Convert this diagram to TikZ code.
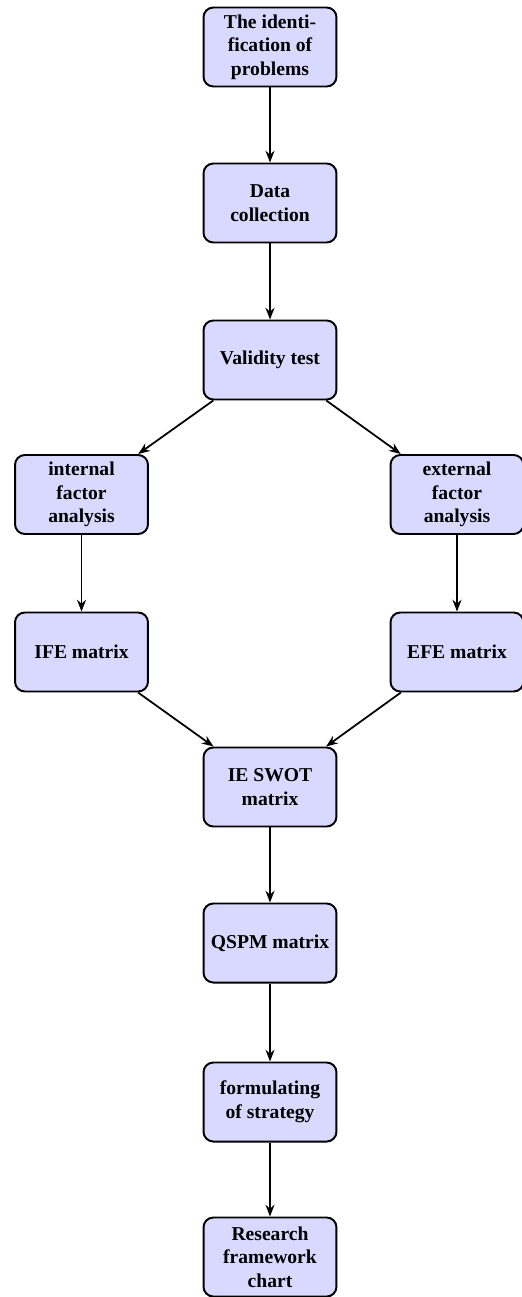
\documentclass[tikz,border=0pt]{standalone}
\usepackage{fontspec}
\setmainfont{Liberation Serif}
\usetikzlibrary{arrows.meta}
\begin{document}
\begin{tikzpicture}[x=0.51pt,y=-0.51pt,
  box/.style={draw=black,line width=1pt,fill=blue!15,rounded corners=5pt,
    minimum width=67.8pt,minimum height=40.3pt,align=center,
    font=\fontsize{10pt}{12pt}\selectfont\bfseries,inner sep=2pt},
  conn/.style={line width=0.9pt,-{Stealth[length=6pt,width=4.6pt,inset=2pt]}}]
\useasboundingbox (0,0) rectangle (522,1297);
\node[box] (prob) at (270,47) {The identi-\\fication of\\problems};
\node[box] (data) at (270,203) {Data\\collection};
\node[box] (valid) at (270,360) {Validity test};
\node[box] (int) at (81.5,494.5) {internal\\factor\\analysis};
\node[box] (ext) at (457,494.5) {external\\factor\\analysis};
\node[box] (ife) at (81.5,652) {IFE matrix};
\node[box] (efe) at (457,652) {EFE matrix};
\node[box] (ie) at (270,787) {IE SWOT\\matrix};
\node[box] (qspm) at (270,943) {QSPM matrix};
\node[box] (form) at (270,1102) {formulating\\of strategy};
\node[box] (res) at (270,1257) {Research\\framework\\chart};
\draw[conn] (prob) -- (data);
\draw[conn] (data) -- (valid);
\draw[conn] (valid) -- (int);
\draw[conn] (valid) -- (ext);
\draw[conn] (int) -- (ife);
\draw[conn] (ext) -- (efe);
\draw[conn] (ife) -- (ie);
\draw[conn] (efe) -- (ie);
\draw[conn] (ie) -- (qspm);
\draw[conn] (qspm) -- (form);
\draw[conn] (form) -- (res);
\end{tikzpicture}
\end{document}
